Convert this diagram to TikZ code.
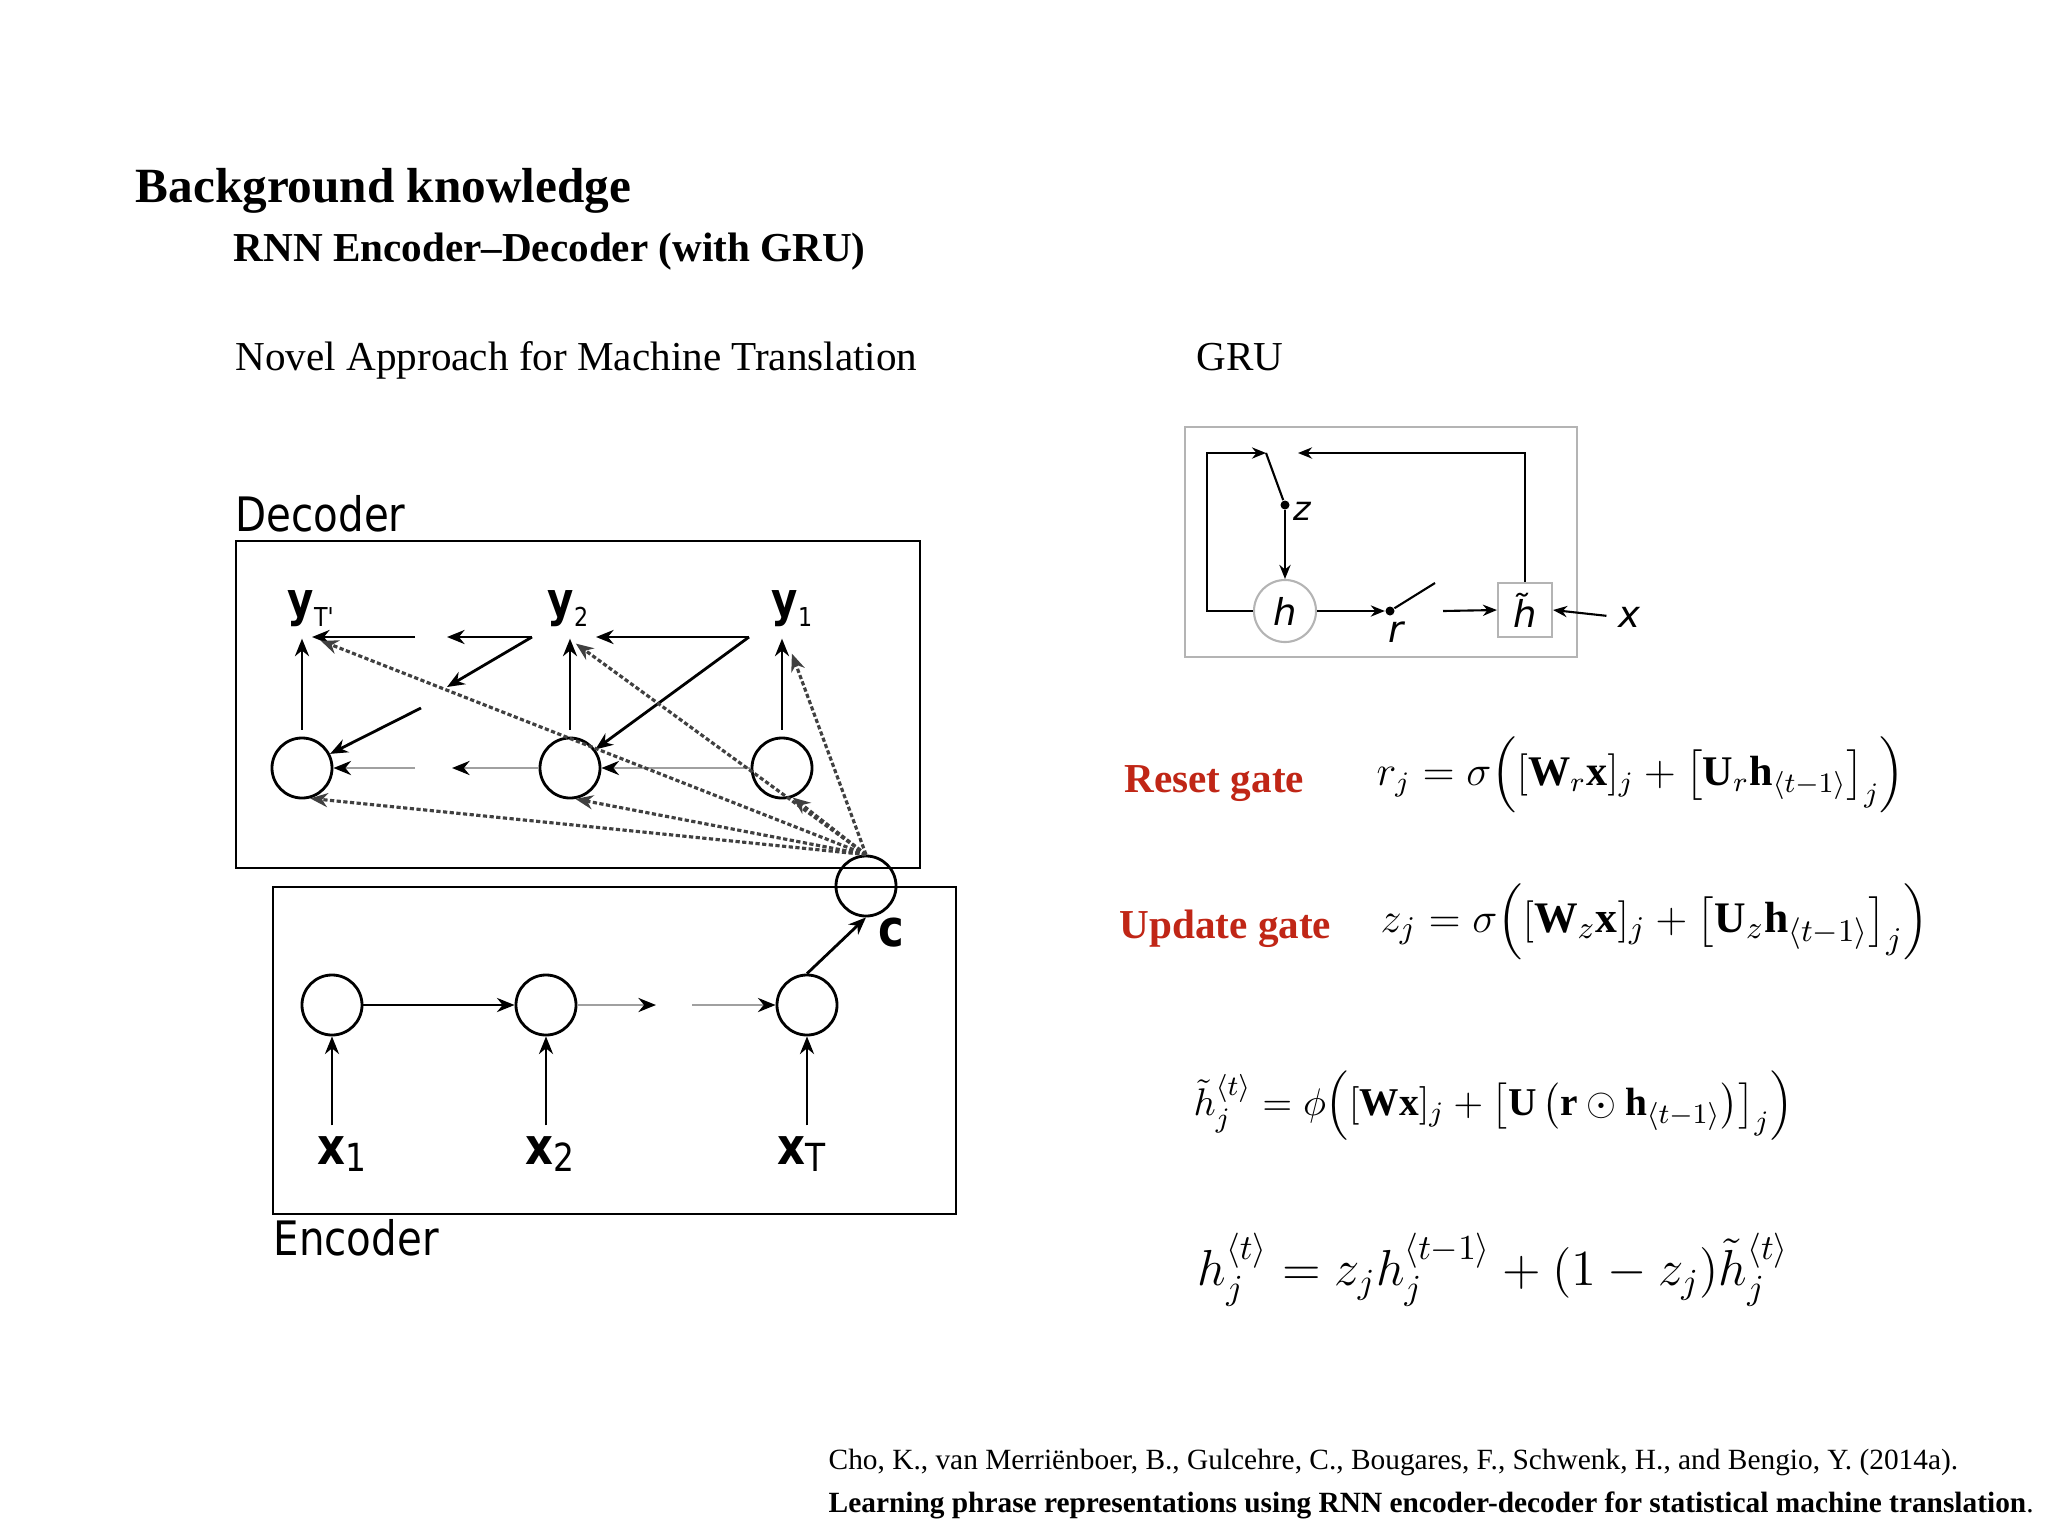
\documentclass[tikz,border=0pt]{standalone}
\usepackage{fontspec}
\usepackage{amsmath}
\usepackage{xcolor}
\setmainfont{Liberation Serif}
\newfontfamily\diagfont{DejaVu Sans}
\newfontfamily\diaglabel[FakeStretch=0.85]{DejaVu Sans}
\usetikzlibrary{positioning,arrows.meta,calc}

\definecolor{gatered}{RGB}{192,38,22}
\definecolor{linkgray}{RGB}{160,160,160}
\definecolor{framegray}{RGB}{180,180,180}

% subscripts of the decoder and encoder labels
\newcommand{\dsub}[1]{\raisebox{-0.23em}{\mdseries\fontsize{7.4}{8}\selectfont #1}}
\newcommand{\esub}[1]{\raisebox{-0.15em}{\mdseries\fontsize{11}{12}\selectfont #1}}

\begin{document}
\begin{tikzpicture}[
    x=0.01cm, y=-0.01cm,
    >={Stealth[length=5pt,width=4pt]},
    unit/.style={draw, circle, minimum size=0.6cm, inner sep=0pt, line width=0.8pt},
    frame/.style={draw, line width=0.8pt},
    lbl/.style={inner sep=0pt, font=\diaglabel\bfseries\fontsize{14.5}{17}\selectfont},
    ylbl/.style={inner sep=0pt, font=\diaglabel\bfseries\fontsize{13.5}{16}\selectfont},
    tag/.style={inner sep=0pt, font=\diaglabel\fontsize{13.5}{16}\selectfont},
    link/.style={->, line width=0.8pt},
    faint/.style={-{Stealth[length=5pt,width=4pt,color=black]}, draw=linkgray, line width=0.8pt},
    attend/.style={->, draw=black!75, line width=0.9pt, dash pattern=on 1.2pt off 0.7pt},
    gatefont/.style={inner sep=0pt, font=\diagfont\itshape\fontsize{10.5}{12}\selectfont},
    wire/.style={line width=0.6pt, >={Stealth[length=4pt,width=3.2pt]}},
    dot/.style={circle, fill, inner sep=0pt, minimum size=0.09cm},
    txt/.style={inner sep=0pt, anchor=base west}
]
  \useasboundingbox (0,0) rectangle (2048,1536);

  % headings
  \node[txt, font=\bfseries\fontsize{14}{17}\selectfont] (title) at (135,202) {Background knowledge};
  \node[txt, font=\bfseries\fontsize{11.7}{14}\selectfont] (subtitle) at (233,261) {RNN Encoder--Decoder (with GRU)};
  \node[txt, font=\fontsize{11.7}{14}\selectfont] (novel) at (235,370) {Novel Approach for Machine Translation};
  \node[txt, font=\fontsize{11.7}{14}\selectfont] (grutitle) at (1196,370) {GRU};

  % decoder
  \draw[frame] (236,541) rectangle (920,868);
  \node[tag, anchor=base west] (declabel) at (235,531) {Decoder};

  \node[unit] (D1) at (302,768) {};
  \node[unit] (D2) at (570,768) {};
  \node[unit] (D3) at (782,768) {};
  \node[unit] (C) at (866,886) {};

  \node[ylbl, anchor=base west] (yT) at (287,616) {y\dsub{T'}};
  \node[ylbl, anchor=base west] (y2) at (547,616) {y\dsub{2}};
  \node[ylbl, anchor=base west] (y1) at (771,616) {y\dsub{1}};

  \foreach \u/\y in {D1/yT, D2/y2, D3/y1}
  \draw[link, shorten <=0.07cm, shorten >=0.11cm] (\u.north) -- (\u.north |- \y.south);

  % feedback of the previous output
  \coordinate (f1) at (749,637);
  \coordinate (f2) at (532,637);
  \coordinate (f3) at (415,637);
  \coordinate (f4) at (421,708);
  \coordinate (g1) at (447,637);
  \coordinate (g2) at (447,687);

  \draw[link, shorten >=0.26cm] (f1) -- (f1 -| D2.north);
  \draw[link] (f1) -- (D2);
  \draw[link] (f2) -- (g1);
  \draw[link] (f2) -- (g2);
  \draw[link, shorten >=0.1cm] (f3) -- (f3 -| D1.north);
  \draw[link] (f4) -- (D1);

  % hidden state chain
  \coordinate (b1) at (452,768);
  \coordinate (b2) at (415,768);
  \draw[faint] (D3) -- (D2);
  \draw[faint] (D2) -- (b1);
  \draw[faint] (b2) -- (D1);

  % context vector to every step
  \draw[attend] (C.north) -- ($(yT.south)+(10,13)$);
  \draw[attend] (C.north) -- ($(y2.south)+(8,16)$);
  \draw[attend] (C.north) -- ($(y1.south)+(0,26)$);
  \draw[attend] (C.north) -- (D1.-75);
  \draw[attend] (C.north) -- (D2.-80);
  \draw[attend] (C.north) -- (D3.-70);

  % encoder
  \draw[frame] (273,887) rectangle (956,1214);
  \node[tag, anchor=base west] (enclabel) at (273,1255) {Encoder};

  \node[unit] (E1) at (332,1005) {};
  \node[unit] (E2) at (546,1005) {};
  \node[unit] (E3) at (807,1005) {};

  \node[lbl, anchor=base west] (x1) at (317,1164) {x\esub{1}};
  \node[lbl, anchor=base west] (x2) at (525,1164) {x\esub{2}};
  \node[lbl, anchor=base west] (xT) at (777,1164) {x\esub{T}};

  \foreach \u/\x in {E1/x1, E2/x2, E3/xT}
  \draw[link, shorten <=0.1cm] (\u.south |- \x.north) -- (\u.south);

  \coordinate (e1) at (656,1005);
  \coordinate (e2) at (692,1005);
  \draw[link] (E1) -- (E2);
  \draw[faint] (E2) -- (e1);
  \draw[faint] (e2) -- (E3);

  \draw[link] (E3.north) -- (C.south);
  \node[lbl, anchor=base west] (clabel) at (878,946) {c};

  % GRU cell
  \draw[draw=framegray, line width=0.7pt] (1185,427) rectangle (1577,657);
  \node[draw=framegray, circle, minimum size=0.62cm, line width=0.6pt, gatefont] (h) at (1285,611) {h};
  \node[draw=framegray, minimum size=0.54cm, line width=0.6pt, gatefont] (ht) at (1525,610) {\~{h}};
  \node[gatefont] (xin) at (1629,617) {x};
  \node[dot] (zd) at (1285,505) {};
  \node[dot] (rd) at (1390,611) {};
  \node[gatefont, font=\diagfont\itshape\fontsize{9.5}{11}\selectfont] (zl) at (1302,511) {z};
  \node[gatefont] (rl) at (1396,632) {r};

  \coordinate (lc) at (1207,611);
  \coordinate (tl) at (1207,453);
  \coordinate (zt) at (1266,453);
  \coordinate (rt) at (1435,583);
  \coordinate (rs) at (1443,611);
  \coordinate (tr) at (1525,453);
  \coordinate (tz) at (1298,453);

  \draw[wire, ->] (h.west) -- (lc) -- (tl) -- (zt);
  \draw[wire] (zt) -- (zd);
  \draw[wire, ->] (zd) -- (h.north);
  \draw[wire, ->] (h.east) -- (rd);
  \draw[wire] (rd) -- (rt);
  \draw[wire, ->] (rs) -- (ht.west);
  \draw[wire, ->, shorten <=0.11cm] (xin.west) -- (ht.east);
  \draw[wire, ->] (ht.north) -- (tr) -- (tz);

  % gate equations
  \node[txt, text=gatered, font=\bfseries\fontsize{11.7}{14}\selectfont] (resetlbl) at (1124,792) {Reset gate};
  \node[txt, text=gatered, font=\bfseries\fontsize{11.7}{14}\selectfont] (updatelbl) at (1119,938) {Update gate};

  \node[inner sep=0pt, anchor=west, font=\fontsize{12}{14}\selectfont] (req) at (1376,775)
    {$r_j = \sigma\Bigl([\mathbf{W}_r\mathbf{x}]_j + \bigl[\mathbf{U}_r\mathbf{h}_{\langle t-1\rangle}\bigr]_j\Bigr)$};
  \node[inner sep=0pt, anchor=west, font=\fontsize{12.4}{15}\selectfont] (zeq) at (1380,922)
    {$z_j = \sigma\Bigl([\mathbf{W}_z\mathbf{x}]_j + \bigl[\mathbf{U}_z\mathbf{h}_{\langle t-1\rangle}\bigr]_j\Bigr)$};
  \node[inner sep=0pt, anchor=west, font=\fontsize{11.2}{13}\selectfont] (hteq) at (1193,1106)
    {$\tilde{h}_j^{\langle t\rangle} = \phi\Bigl([\mathbf{W}\mathbf{x}]_j + \bigl[\mathbf{U}\left(\mathbf{r}\odot\mathbf{h}_{\langle t-1\rangle}\right)\bigr]_j\Bigr)$};
  \node[inner sep=0pt, anchor=west, font=\fontsize{14.6}{17}\selectfont] (heq) at (1197,1270)
    {$h_j^{\langle t\rangle} = z_j h_j^{\langle t-1\rangle} + (1-z_j)\tilde{h}_j^{\langle t\rangle}$};

  % reference
  \node[txt, font=\fontsize{8.35}{10}\selectfont] (cite1) at (828,1469)
    {Cho, K., van Merriënboer, B., Gulcehre, C., Bougares, F., Schwenk, H., and Bengio, Y. (2014a).};
  \node[txt, font=\fontsize{8.35}{10}\selectfont] (cite2) at (828,1512)
    {\textbf{Learning phrase representations using RNN encoder-decoder for statistical machine translation}.};

\end{tikzpicture}
\end{document}
